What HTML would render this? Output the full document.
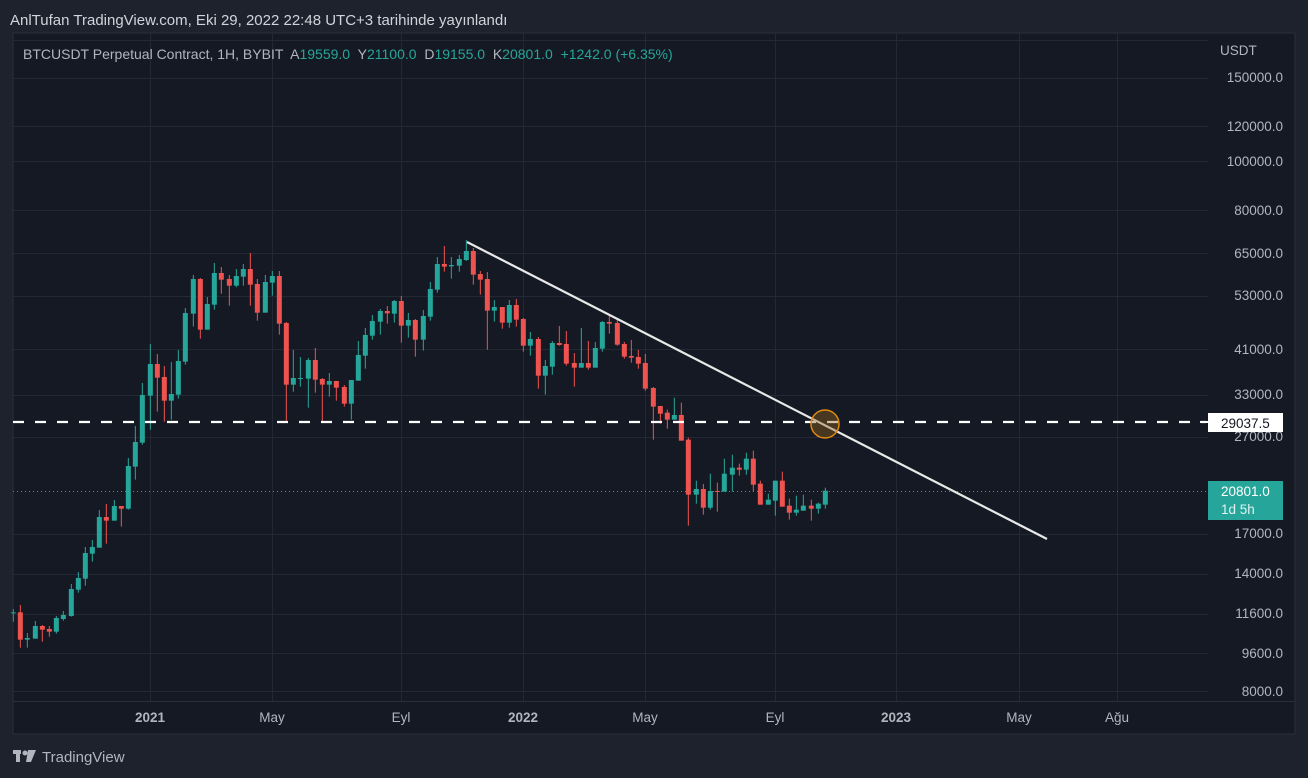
<!DOCTYPE html>
<html><head><meta charset="utf-8"><style>
html,body{margin:0;padding:0;background:#1e222d;width:1308px;height:778px;overflow:hidden}
svg{display:block}
text{font-family:"Liberation Sans",sans-serif;white-space:pre}
</style></head><body>
<svg id="s" width="1308" height="778" xmlns="http://www.w3.org/2000/svg">
<rect width="1308" height="778" fill="#1e222d"/>
<rect x="13" y="33" width="1282" height="701" fill="#151924" stroke="#2a2e39" stroke-width="1"/>
<g id="grid" stroke="#242834" stroke-width="1"></g>
<line x1="13" y1="701.5" x2="1295" y2="701.5" stroke="#2a2e39"/>
<g id="candles"></g>
<line x1="13" y1="491.5" x2="1208" y2="491.5" stroke="#26a69a" stroke-dasharray="1,3" stroke-width="1"/>
<line x1="13" y1="422" x2="1206" y2="422" stroke="#ffffff" stroke-width="2.2" stroke-dasharray="11,11"/>
<line x1="467" y1="242" x2="1047" y2="539" stroke="#e8e8e8" stroke-width="2.2"/>
<circle cx="825" cy="424" r="14" fill="rgba(150,100,30,0.4)" stroke="#e08a10" stroke-width="1.5"/>
<g id="labels" fill="#b2b5be" font-size="13.5"></g>
<text x="1220" y="55" fill="#b2b5be" font-size="13.5">USDT</text>
<rect x="1208" y="413" width="75" height="19" fill="#ffffff"/>
<text x="1221" y="428" fill="#131722" font-size="13.5">29037.5</text>
<line x1="1200" y1="422" x2="1208" y2="422" stroke="#fff" stroke-width="2"/>
<rect x="1208" y="481" width="75" height="39" fill="#26a69a"/>
<text x="1221" y="496" fill="#ffffff" font-size="13.5">20801.0</text>
<text x="1221" y="514" fill="#e0f2f1" font-size="13.5">1d 5h</text>
<g fill="#b2b5be" font-size="13.5" text-anchor="middle">
<text x="150" y="722" font-weight="bold">2021</text>
<text x="272" y="722">May</text>
<text x="401" y="722">Eyl</text>
<text x="523" y="722" font-weight="bold">2022</text>
<text x="645" y="722">May</text>
<text x="775" y="722">Eyl</text>
<text x="896" y="722" font-weight="bold">2023</text>
<text x="1019" y="722">May</text>
<text x="1117" y="722">Ağu</text>
</g>
<text x="10" y="25" fill="#d1d4dc" font-size="15">AnlTufan TradingView.com, Eki 29, 2022 22:48 UTC+3 tarihinde yayınlandı</text>
<text x="23" y="59" font-size="14" fill="#b2b5be">BTCUSDT Perpetual Contract, 1H, BYBIT  A<tspan fill="#26a69a">19559.0</tspan>  Y<tspan fill="#26a69a">21100.0</tspan>  D<tspan fill="#26a69a">19155.0</tspan>  K<tspan fill="#26a69a">20801.0</tspan>  <tspan fill="#26a69a">+1242.0 (+6.35%)</tspan></text>
<g fill="#b2b5be"><rect x="13" y="750" width="8" height="4"/><rect x="16" y="750" width="4" height="12"/><circle cx="25" cy="753" r="2.5"/><polygon points="28,750 36,750 31,762 26,762"/></g>
<text x="42" y="762" fill="#b2b5be" font-size="15">TradingView</text>
</svg>
<script>
var NS="http://www.w3.org/2000/svg";
function el(p,t,a){var e=document.createElementNS(NS,t);for(var k in a)e.setAttribute(k,a[k]);p.appendChild(e);return e;}
var g=document.getElementById('grid');
[40,78,126,161,210,253,296,349,395,437,534,574,614,653,691].forEach(function(y){el(g,'line',{x1:13,x2:1208,y1:y+.5,y2:y+.5});});
[150,272,401,523,645,775,896,1019,1117].forEach(function(x){el(g,'line',{x1:x+.5,x2:x+.5,y1:33,y2:701});});
var L=document.getElementById('labels');
[[77,'150000.0'],[126,'120000.0'],[161,'100000.0'],[210,'80000.0'],[253,'65000.0'],[295,'53000.0'],[349,'41000.0'],[394,'33000.0'],[436,'27000.0'],[533,'17000.0'],[573,'14000.0'],[613,'11600.0'],[653,'9600.0'],[691,'8000.0']].forEach(function(a){var t=el(L,'text',{x:1283,y:a[0]+5,'text-anchor':'end'});t.textContent=a[1];});
var A=[[40,1147,1149,1137,1175,'g'],[61,1147,1229,1125,1253,'r'],[82,1224,1229,1209,1253,'g'],[106,1188,1226,1173,1226,'g'],[127,1188,1199,1185,1235,'r'],[148,1197,1205,1188,1220,'r'],[169,1164,1205,1158,1211,'g'],[190,1155,1167,1143,1172,'g'],[214,1077,1158,1062,1160,'g'],[235,1044,1079,1026,1088,'g'],[256,969,1046,951,1067,'g'],[277,951,971,930,995,'g'],[298,861,953,840,953,'g'],[319,861,872,822,941,'r'],[343,828,872,810,872,'g'],[364,828,836,828,890,'r'],[385,708,836,684,839,'g'],[406,636,710,588,749,'g'],[427,495,638,459,644,'g'],[451,402,497,342,599,'g'],[472,402,443,372,545,'r'],[493,441,512,408,575,'r'],[514,492,512,396,569,'g'],[535,393,494,360,506,'g'],[556,249,395,234,404,'g'],[580,147,251,135,290,'g'],[601,147,299,144,326,'r'],[622,222,299,201,299,'g'],[643,129,224,99,239,'g'],[664,129,149,111,191,'r'],[688,147,167,135,227,'r'],[709,138,167,117,172,'g'],[730,117,140,102,167,'g'],[751,117,164,69,227,'r'],[772,162,248,147,272,'r'],[796,156,248,135,248,'g'],[817,138,158,123,197,'g'],[838,138,281,123,314,'r'],[859,279,464,276,578,'r'],[880,444,464,360,485,'g'],[901,444,447,381,470,'g'],[925,390,446,384,533,'g'],[946,390,449,354,488,'r'],[967,447,464,444,578,'r'],[988,453,464,429,500,'g'],[1009,453,473,453,512,'r'],[1033,471,521,465,530,'r'],[1054,450,521,450,569,'g'],[1075,375,452,333,452,'g'],[1096,315,377,294,416,'g'],[1117,273,317,255,329,'g'],[1141,243,275,237,314,'g'],[1162,243,250,228,281,'r'],[1183,213,251,210,278,'g'],[1204,213,287,198,338,'r'],[1225,270,287,249,323,'g'],[1246,270,329,267,380,'r'],[1270,258,329,240,362,'g'],[1291,177,260,156,272,'g'],[1312,102,179,81,188,'g'],[1333,102,110,48,125,'r']];
var B=[[94,105,109,81,146,'g'],[118,87,107,75,125,'g'],[139,63,90,30,93,'g'],[160,63,134,54,164,'r'],[181,132,149,123,194,'r'],[202,147,242,126,359,'r'],[223,231,242,210,275,'g'],[247,231,278,231,296,'r'],[268,225,278,210,293,'g'],[289,225,269,207,290,'r'],[310,267,347,264,365,'r'],[331,327,347,306,377,'g'],[355,327,437,321,476,'r'],[376,408,437,390,494,'g'],[397,339,410,333,434,'g'],[418,339,345,288,347,'r'],[439,342,401,303,407,'r'],[463,399,413,369,470,'r'],[484,399,413,294,413,'g'],[505,399,413,333,419,'r'],[526,354,413,336,413,'g'],[547,276,356,273,365,'g'],[568,276,281,258,311,'r'],[592,279,344,270,347,'r'],[613,342,380,336,386,'r'],[634,378,383,330,398,'r'],[655,381,401,360,416,'r'],[676,399,476,372,482,'r'],[700,474,530,471,629,'r'],[721,528,551,528,581,'r'],[742,548,569,539,596,'r'],[763,555,569,503,569,'g'],[784,555,632,518,632,'r'],[805,629,794,623,887,'r'],[829,777,794,752,821,'g'],[850,777,833,762,854,'r'],[871,783,833,731,839,'g'],[892,783,786,758,845,'r'],[913,731,785,686,785,'g'],[937,713,734,674,785,'g'],[958,713,719,701,737,'r'],[979,686,719,668,734,'g'],[1000,686,764,662,785,'r'],[1021,761,824,752,824,'r'],[1045,809,824,791,824,'g'],[1066,752,812,752,857,'g'],[1087,752,830,725,830,'r'],[1108,827,848,806,869,'r'],[1129,839,848,797,857,'g'],[1150,827,842,794,842,'g'],[1174,827,836,809,872,'r'],[1195,821,836,818,851,'g'],[1216,782,824,773,836,'g']];
var C=document.getElementById('candles');
function draw(arr,ox){arr.forEach(function(c){var x=ox+c[0]/3,col=c[5]=='g'?'#26a69a':'#ef5350';
var bt=230+c[1]/3,bb=230+c[2]/3,wt=230+c[3]/3,wb=230+c[4]/3;
el(C,'line',{x1:x,x2:x,y1:wt,y2:wb,stroke:col,'stroke-width':1});
el(C,'rect',{x:x-2.5,y:bt,width:5,height:Math.max(1,bb-bt),fill:col});});}
draw(A,0);draw(B,420);
</script>
</body></html>
